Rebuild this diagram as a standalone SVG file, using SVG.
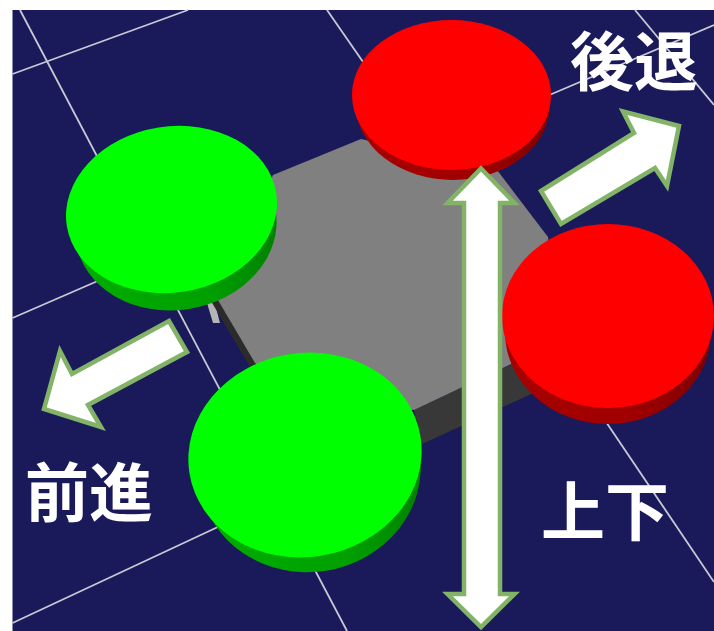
<svg xmlns="http://www.w3.org/2000/svg" width="714" height="631" viewBox="0 0 714 631">
<style>
.grid{stroke:#c9c9d6;stroke-width:1.8;fill:none}
.arrow{fill:#fff;stroke:#82b366;stroke-width:4.5;stroke-linejoin:miter;stroke-miterlimit:10}
.label{font-family:"Noto Sans CJK JP","Noto Sans CJK SC",sans-serif;font-weight:700;font-size:64px;fill:#fff}
.g{fill:#00ff00}.r{fill:#ff0000}
</style>
<defs>
<linearGradient id="gs" x1="0" y1="0" x2="1" y2="0"><stop offset="0" stop-color="#00ad00"/><stop offset="0.6" stop-color="#00a000"/><stop offset="1" stop-color="#008000"/></linearGradient>
<linearGradient id="rs" x1="0" y1="0" x2="1" y2="0"><stop offset="0" stop-color="#a80000"/><stop offset="0.6" stop-color="#a00000"/><stop offset="1" stop-color="#800000"/></linearGradient>
</defs>
<rect width="714" height="631" fill="#fff"/>
<rect x="12.5" y="10" width="701.5" height="621" fill="#1a1a5a"/>
<g id="connectors">
<line class="grid" x1="20" y1="10" x2="347" y2="631"/>
<line class="grid" x1="12.5" y1="74" x2="188" y2="10"/>
<line class="grid" x1="12.5" y1="318" x2="100" y2="280"/>
<line class="grid" x1="12.5" y1="623" x2="220" y2="526"/>
<line class="grid" x1="327" y1="10" x2="370" y2="72"/>
<line class="grid" x1="635" y1="10" x2="714" y2="105"/>
<line class="grid" x1="540" y1="99" x2="714" y2="25"/>
<line class="grid" x1="600" y1="413" x2="714" y2="582"/>
</g>
<g id="platform">
<polygon points="207,303 214,300 220,323 213,323" fill="#b5b5b5"/>
<polygon points="208,296 226,290 262,360 250,367" fill="#2b2b2b"/>
<polygon points="414,410 520,360 540,390 422,444" fill="#383838"/>
<polygon points="215,295 273,175 361,139 497,170 548,237 560,340 509,365 414,410 300,400 255,363" fill="#808080"/>
</g>
<g id="disc-green-back">
<ellipse cx="176" cy="227" rx="101" ry="83" transform="rotate(-9 176 227)" fill="url(#gs)"/>
<ellipse class="g" cx="171.5" cy="209.5" rx="106" ry="83" transform="rotate(-9 171.5 209.5)"/>
</g>
<g id="disc-red-back">
<ellipse cx="453" cy="105" rx="97" ry="75" fill="url(#rs)"/>
<ellipse class="r" cx="451.5" cy="95" rx="99.5" ry="75"/>
</g>
<g id="disc-red-front">
<ellipse cx="608" cy="332" rx="103" ry="92" fill="url(#rs)"/>
<ellipse class="r" cx="608" cy="316" rx="106" ry="92"/>
</g>
<g id="disc-green-front">
<ellipse cx="310" cy="470" rx="111" ry="102" transform="rotate(-9 310 470)" fill="url(#gs)"/>
<ellipse class="g" cx="305" cy="455" rx="117" ry="102" transform="rotate(-9 305 455)"/>
</g>
<g id="arrow-updown">
<polygon class="arrow" points="481,168.5 514.5,203 500,203 500,594 514.5,594 481,627 447.5,594 464,594 464,203 447.5,203"/>
</g>
<g id="arrow-back">
<polygon class="arrow" points="541,191 634,133 623,111.5 679,126 667,186 655,168 561,224"/>
</g>
<g id="arrow-forward">
<polygon class="arrow" points="187,352 88,405 101,427 44,409 60,351 72,374 169,321"/>
</g>
<g id="label-back"><text class="label" x="570" y="85">後退</text></g>
<g id="label-forward"><text class="label" x="25" y="516">前進</text></g>
<g id="label-updown"><text class="label" x="541" y="535">上下</text></g>
</svg>
